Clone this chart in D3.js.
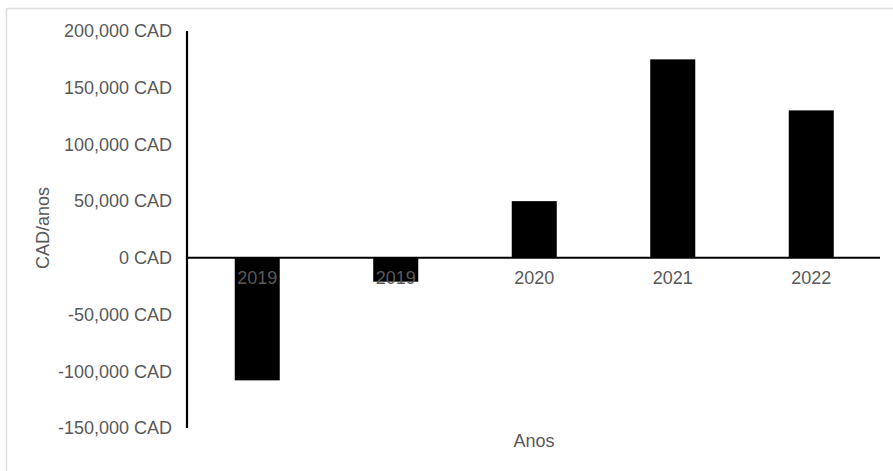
<!DOCTYPE html>
<html>
<head>
<meta charset="utf-8">
<script src="https://cdn.jsdelivr.net/npm/d3@7"></script>
<style>
  html, body { margin: 0; padding: 0; background: #fff; }
  svg { display: block; }
  text { font-family: "Liberation Sans", Arial, sans-serif; fill: #595959; }
</style>
</head>
<body>
<svg id="chart" width="893" height="471"></svg>
<script>
const categories = ["2019", "2019 ", "2020", "2021", "2022"];
const categoryLabels = ["2019", "2019", "2020", "2021", "2022"];
const values = [-108000, -21000, 50000, 175000, 130000];
const yTicks = [-150000, -100000, -50000, 0, 50000, 100000, 150000, 200000];
const yTitle = "CAD/anos";
const xTitle = "Anos";

const svg = d3.select("#chart");
const FONT = "'Liberation Sans', Arial, sans-serif";

// frame (top and left borders)
svg.append("line").attr("x1", 6.5).attr("x2", 893).attr("y1", 8.5).attr("y2", 8.5)
  .attr("stroke", "#dcdcdc").attr("stroke-width", 1.5);
svg.append("line").attr("x1", 6.5).attr("x2", 6.5).attr("y1", 8.5).attr("y2", 471)
  .attr("stroke", "#dcdcdc").attr("stroke-width", 1.5);

const x = d3.scaleBand().domain(categories).range([188, 880.5])
  .paddingInner(0.675).paddingOuter(0.3375);
const y = d3.scaleLinear().domain([-150000, 200000]).range([428, 31]);

// bars
svg.append("g").selectAll("rect").data(values).join("rect")
  .attr("x", (d, i) => x(categories[i]))
  .attr("width", x.bandwidth())
  .attr("y", d => y(Math.max(0, d)))
  .attr("height", d => Math.abs(y(d) - y(0)))
  .attr("fill", "#000");

// y axis
const yAxis = d3.axisLeft(y).tickValues(yTicks).tickSize(0).tickPadding(15)
  .tickFormat(d => d3.format(",")(d).replace("\u2212", "-") + " CAD");
const gy = svg.append("g").attr("transform", "translate(187,0)").call(yAxis);
gy.select(".domain").remove();
gy.selectAll("text").style("font-size", "18px").attr("fill", "#595959")
  .style("font-family", FONT);
svg.append("line").attr("x1", 187).attr("x2", 187).attr("y1", y(200000)).attr("y2", y(-150000))
  .attr("stroke", "#000").attr("stroke-width", 2.2);

// zero line
svg.append("line").attr("x1", 187).attr("x2", 880).attr("y1", y(0)).attr("y2", y(0))
  .attr("stroke", "#000").attr("stroke-width", 2);

// x category labels
const xAxis = d3.axisBottom(x).tickSize(0).tickPadding(13)
  .tickFormat((d, i) => categoryLabels[i]);
const gx = svg.append("g").attr("transform", `translate(0,${y(0)})`).call(xAxis);
gx.select(".domain").remove();
gx.selectAll("text").style("font-size", "18px").attr("fill", "#595959")
  .style("font-family", FONT);

// titles
svg.append("text").attr("x", 534).attr("y", 447).attr("text-anchor", "middle")
  .style("font-size", "18px").text(xTitle);
svg.append("text").attr("transform", "translate(49,228) rotate(-90)").attr("text-anchor", "middle")
  .style("font-size", "18px").text(yTitle);
</script>
</body>
</html>
